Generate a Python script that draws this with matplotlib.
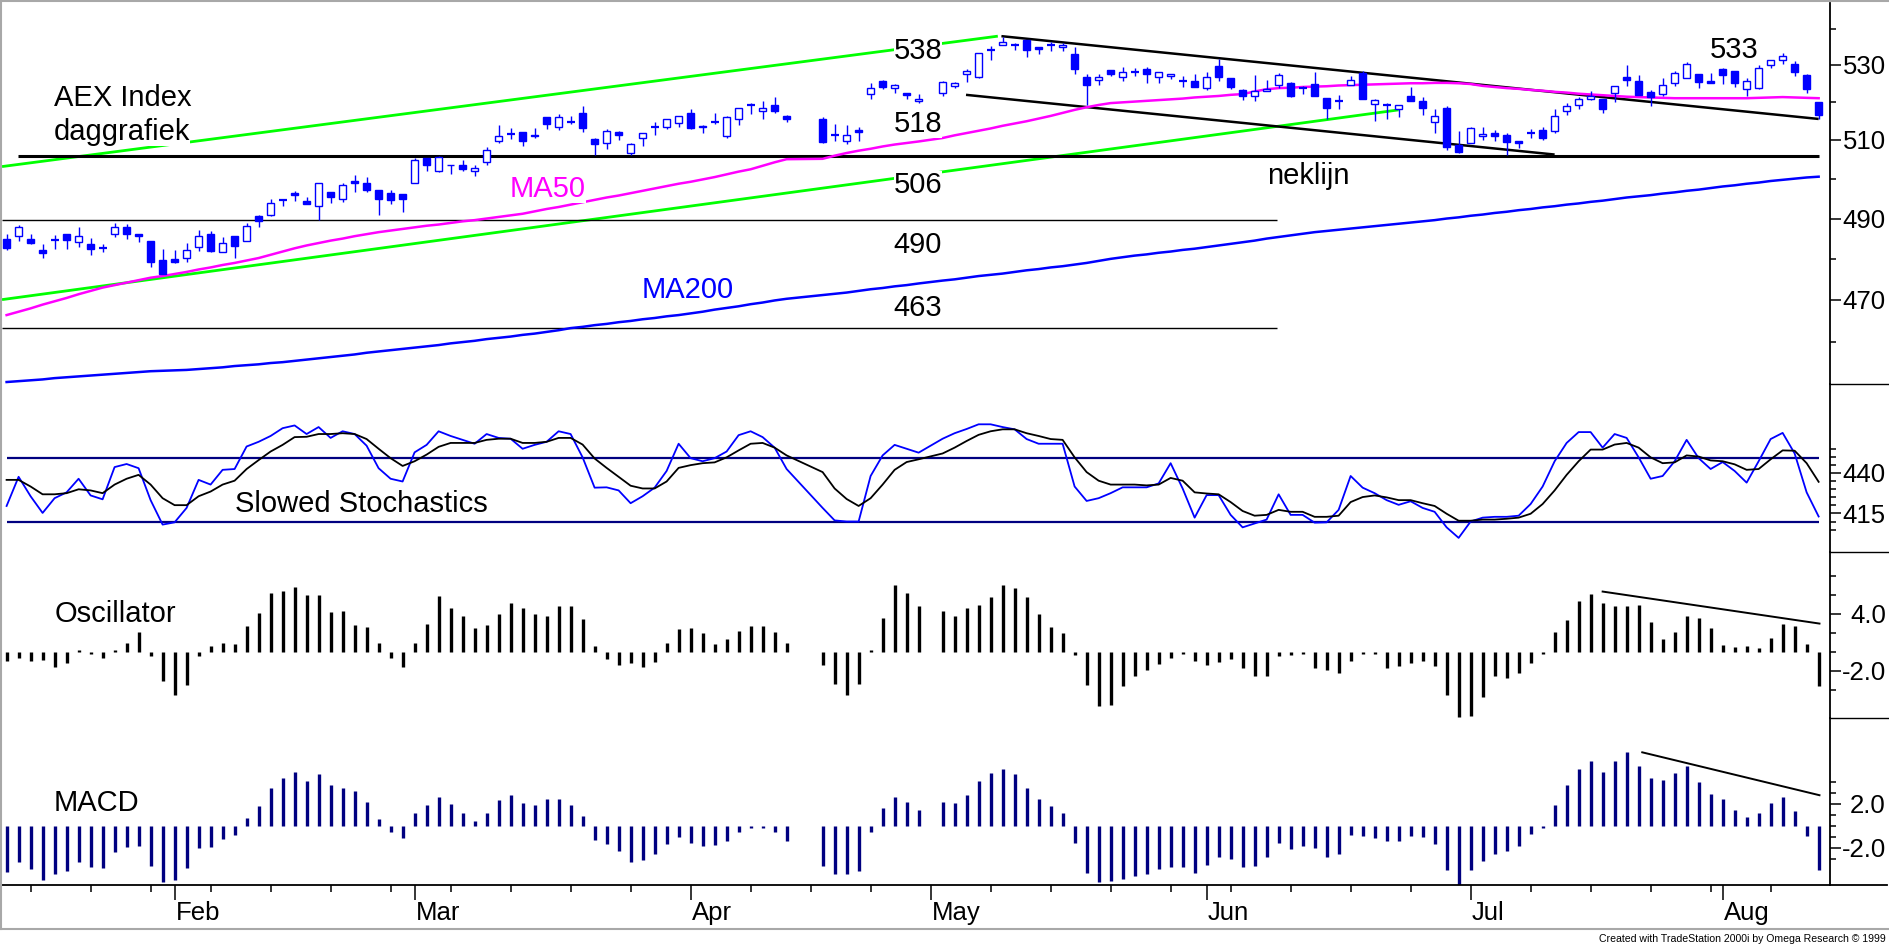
"""AEX Index daily chart with stochastics, oscillator and MACD panels."""

import numpy as np
import matplotlib
matplotlib.use("Agg")
import matplotlib.pyplot as plt
from matplotlib.lines import Line2D
from matplotlib.ticker import FixedLocator, NullFormatter
from matplotlib.transforms import blended_transform_factory

nan = np.nan

# ---- price bars (bar index 0..151, gaps are holidays) ----
opens = [
    485.0, 485.6, 485.0, 482.1, 484.6, 486.2, 484.2, 483.7, 482.7, 486.2,
    488.0, 486.2, 484.3, 479.8, 479.9, 480.1, 482.9, 486.2, 481.6, 485.7,
    484.3, 490.6, 491.0, 494.6, 496.5, 494.5, 493.1, 496.6, 495.0, 499.4,
    498.9, 497.1, 496.4, 496.2, 498.9, 505.4, 502.1, 503.7, 503.7, 502.1,
    504.5, 509.9, 511.7, 512.3, 511.5, 516.0, 513.4, 514.9, 517.1, 510.4,
    509.2, 512.3, 506.6, 510.7, 513.5, 513.5, 514.5, 517.3, 513.4, 514.9,
    511.2, 515.5, 519.3, 517.6, 519.2, 516.4, nan, nan, 515.5, 511.3,
    509.9, 512.6, 522.2, 525.6, 523.7, 522.4, 520.4, nan, 522.4, 524.4,
    527.5, 526.9, 534.1, 535.4, 535.6, 536.8, 534.8, 535.5, 535.0, 533.0,
    526.9, 525.9, 528.6, 526.7, 528.0, 528.9, 526.7, 527.0, 525.6, 525.6,
    523.9, 529.7, 526.4, 523.3, 521.6, 523.1, 524.5, 525.2, 523.8, 524.9,
    521.1, 520.4, 524.6, 527.8, 519.5, 519.3, 518.2, 521.7, 520.3, 514.9,
    518.5, 508.8, 509.3, 511.0, 511.8, 511.5, 509.7, 512.0, 512.7, 512.4,
    517.8, 519.4, 520.9, 520.9, 522.4, 526.7, 525.7, 522.7, 522.2, 525.3,
    526.6, 527.6, 525.7, 528.9, 528.5, 523.6, 523.8, 529.9, 531.5, 530.4,
    527.2, 520.0,
]
highs = [
    486.2, 488.3, 486.1, 483.7, 485.8, 486.2, 487.9, 485.2, 483.7, 488.9,
    488.7, 486.2, 484.3, 482.5, 482.3, 483.9, 487.2, 487.0, 485.4, 485.7,
    488.9, 490.8, 495.0, 494.6, 496.9, 495.5, 498.9, 496.6, 498.9, 501.0,
    500.4, 497.1, 497.1, 496.2, 505.4, 505.4, 506.0, 503.7, 504.8, 503.5,
    508.2, 513.9, 513.1, 512.3, 513.1, 516.0, 516.8, 516.4, 518.9, 510.6,
    512.9, 512.5, 509.3, 512.0, 514.7, 515.6, 516.4, 518.2, 514.1, 517.3,
    516.4, 518.6, 519.7, 520.3, 521.3, 516.6, nan, nan, 516.0, 514.4,
    513.9, 513.5, 525.1, 526.1, 524.9, 522.6, 522.3, nan, 525.7, 525.4,
    528.9, 533.2, 535.2, 537.7, 535.9, 536.8, 534.8, 536.2, 536.1, 535.0,
    527.6, 527.5, 528.6, 529.4, 529.3, 529.5, 528.0, 527.7, 527.1, 527.6,
    528.0, 531.6, 526.4, 523.5, 527.3, 525.9, 527.8, 525.4, 524.4, 528.1,
    521.1, 521.9, 527.1, 528.5, 520.8, 519.7, 519.4, 524.0, 521.3, 518.2,
    519.1, 512.4, 513.5, 513.5, 512.7, 511.8, 509.7, 512.9, 513.4, 518.2,
    519.9, 521.5, 523.1, 520.9, 524.3, 530.0, 527.3, 523.3, 526.5, 528.4,
    530.8, 527.6, 527.8, 529.1, 528.5, 526.6, 529.9, 531.3, 533.2, 531.0,
    527.6, 520.0,
]
lows = [
    482.1, 484.4, 483.6, 480.3, 482.4, 482.5, 482.9, 481.0, 481.7, 485.4,
    485.0, 484.2, 477.9, 476.4, 479.0, 479.3, 481.9, 481.7, 481.6, 480.1,
    484.3, 487.9, 490.7, 493.1, 494.5, 493.7, 489.6, 494.0, 494.2, 496.7,
    496.7, 490.9, 493.7, 491.7, 498.9, 502.1, 501.9, 501.4, 502.1, 500.8,
    503.6, 509.3, 510.3, 508.5, 510.5, 512.9, 512.8, 514.4, 512.3, 506.2,
    507.7, 510.2, 506.3, 508.5, 511.4, 512.9, 513.5, 512.9, 512.0, 514.4,
    510.6, 514.1, 516.8, 515.6, 517.3, 514.7, nan, nan, 509.3, 509.9,
    509.0, 509.9, 521.0, 523.5, 522.4, 520.8, 519.9, nan, 521.7, 523.7,
    525.5, 526.6, 531.5, 535.4, 534.2, 532.3, 533.0, 533.9, 533.8, 527.5,
    519.3, 524.5, 527.0, 525.8, 527.0, 525.1, 525.1, 526.3, 524.0, 524.0,
    523.4, 525.8, 523.6, 520.7, 520.4, 523.1, 523.8, 521.3, 522.2, 521.6,
    515.6, 518.2, 524.6, 520.8, 515.1, 515.6, 516.0, 520.4, 516.7, 512.0,
    507.4, 506.8, 509.3, 510.0, 509.9, 506.2, 507.9, 510.6, 510.2, 512.0,
    516.7, 518.2, 520.6, 517.2, 520.1, 524.4, 522.0, 519.1, 521.7, 524.4,
    526.4, 523.9, 525.3, 524.8, 524.2, 521.7, 523.6, 529.3, 530.2, 527.1,
    522.4, 515.6,
]
closes = [
    482.6, 487.9, 483.9, 481.5, 484.6, 484.6, 485.7, 482.5, 482.7, 487.9,
    486.2, 485.7, 479.3, 476.4, 479.3, 482.1, 485.7, 481.9, 484.0, 483.2,
    488.2, 489.3, 493.8, 494.6, 496.0, 493.7, 498.9, 495.5, 498.4, 498.9,
    497.3, 494.8, 494.6, 495.0, 505.0, 503.7, 505.7, 503.5, 502.6, 502.8,
    507.6, 511.0, 511.7, 509.8, 511.2, 514.3, 516.2, 514.9, 513.3, 509.1,
    512.5, 511.4, 509.0, 512.0, 513.5, 515.6, 516.4, 513.3, 513.8, 514.9,
    516.2, 518.6, 519.3, 518.4, 517.8, 515.7, nan, nan, 509.6, 511.3,
    511.5, 512.1, 523.7, 524.0, 524.6, 521.9, 520.9, nan, 525.4, 525.1,
    528.3, 533.2, 534.1, 536.3, 535.6, 534.2, 534.5, 535.5, 535.6, 529.0,
    524.5, 526.9, 527.6, 528.0, 528.0, 527.5, 528.0, 527.7, 525.6, 524.0,
    526.9, 526.7, 524.2, 521.6, 523.1, 523.5, 527.3, 521.8, 523.8, 521.6,
    518.6, 520.4, 526.0, 520.8, 520.6, 519.3, 519.4, 520.4, 518.6, 516.3,
    508.3, 507.0, 513.3, 511.6, 511.1, 509.5, 509.4, 512.0, 510.6, 516.4,
    518.9, 521.0, 521.6, 518.2, 524.3, 526.0, 522.0, 521.3, 524.5, 527.8,
    530.2, 525.5, 525.3, 527.4, 525.3, 525.6, 529.1, 531.3, 532.5, 528.2,
    523.5, 516.7,
]

ma50 = [
    466.4, 467.2, 468.0, 468.9, 469.7, 470.5, 471.4, 472.2, 473.0, 473.6,
    474.2, 474.8, 475.4, 475.8, 476.3, 476.8, 477.4, 477.9, 478.5, 479.0,
    479.6, 480.2, 481.0, 481.8, 482.6, 483.3, 483.9, 484.5, 485.0, 485.6,
    486.1, 486.6, 487.0, 487.4, 487.8, 488.2, 488.5, 488.9, 489.3, 489.6,
    490.0, 490.4, 490.8, 491.2, 491.8, 492.4, 492.9, 493.5, 494.1, 494.7,
    495.3, 495.8, 496.4, 497.0, 497.6, 498.2, 498.8, 499.3, 499.9, 500.5,
    501.2, 501.9, 502.5, 503.4, 504.3, 505.1, nan, nan, 505.2, 506.0,
    506.7, 507.3, 507.8, 508.4, 508.9, 509.3, 509.7, nan, 510.6, 511.3,
    511.9, 512.5, 513.1, 513.8, 514.4, 515.0, 515.7, 516.4, 517.2, 518.0,
    518.7, 519.3, 519.8, 520.0, 520.2, 520.4, 520.6, 520.8, 521.0, 521.3,
    521.5, 521.7, 522.0, 522.2, 522.9, 523.5, 523.8, 523.9, 524.1, 524.2,
    524.3, 524.5, 524.6, 524.7, 524.8, 524.9, 525.0, 525.1, 525.1, 525.2,
    525.2, 525.1, 524.9, 524.4, 524.1, 523.8, 523.6, 523.3, 523.1, 522.8,
    522.6, 522.3, 522.1, 521.9, 521.7, 521.5, 521.4, 521.3, 521.2, 521.1,
    521.1, 521.1, 521.1, 521.1, 521.1, 521.1, 521.2, 521.3, 521.4, 521.3,
    521.2, 521.1,
]
ma200 = [
    450.7, 450.9, 451.1, 451.3, 451.6, 451.8, 452.0, 452.2, 452.4, 452.6,
    452.8, 453.0, 453.2, 453.3, 453.4, 453.5, 453.7, 453.9, 454.1, 454.4,
    454.6, 454.8, 455.1, 455.3, 455.6, 455.9, 456.2, 456.5, 456.8, 457.1,
    457.5, 457.8, 458.1, 458.4, 458.7, 459.0, 459.3, 459.7, 460.0, 460.3,
    460.7, 461.0, 461.3, 461.7, 462.0, 462.4, 462.8, 463.3, 463.6, 464.0,
    464.3, 464.7, 465.0, 465.4, 465.7, 466.1, 466.4, 466.8, 467.2, 467.7,
    468.1, 468.5, 469.0, 469.4, 469.9, 470.3, nan, nan, 471.2, 471.5,
    471.8, 472.2, 472.6, 472.9, 473.3, 473.6, 474.0, nan, 474.7, 475.0,
    475.4, 475.8, 476.1, 476.4, 476.8, 477.2, 477.5, 477.9, 478.2, 478.6,
    479.0, 479.5, 480.0, 480.4, 480.8, 481.1, 481.5, 481.8, 482.2, 482.5,
    482.9, 483.3, 483.7, 484.1, 484.5, 485.0, 485.4, 485.8, 486.2, 486.6,
    486.9, 487.2, 487.5, 487.8, 488.1, 488.4, 488.7, 489.0, 489.3, 489.6,
    490.0, 490.3, 490.7, 491.0, 491.4, 491.7, 492.1, 492.4, 492.8, 493.1,
    493.5, 493.8, 494.2, 494.5, 494.9, 495.3, 495.6, 495.9, 496.3, 496.6,
    497.0, 497.3, 497.7, 498.1, 498.4, 498.8, 499.1, 499.5, 499.8, 500.1,
    500.4, 500.6,
]

# ---- slowed stochastics (fast blue, slow black) ----
stoch_k = [
    419.6, 437.6, 425.6, 415.3, 424.4, 428.0, 436.4, 426.1, 423.7, 443.6,
    445.5, 442.9, 423.2, 408.1, 409.5, 418.4, 435.7, 432.8, 441.9, 442.4,
    456.3, 459.2, 462.8, 467.6, 469.3, 464.0, 468.3, 461.6, 465.7, 464.0,
    456.8, 442.9, 436.4, 434.7, 452.7, 457.3, 465.7, 462.8, 460.4, 458.0,
    464.0, 461.6, 461.1, 454.9, 457.3, 459.2, 465.7, 464.0, 449.6, 430.9,
    431.1, 429.2, 421.3, 425.6, 430.9, 441.2, 458.0, 449.1, 447.2, 449.1,
    453.2, 463.3, 465.7, 462.1, 455.6, 442.4, nan, nan, 418.4, 410.7,
    410.0, 410.0, 438.1, 450.8, 457.3, 454.9, 452.5, nan, 461.1, 464.5,
    467.1, 470.0, 470.0, 468.3, 466.9, 460.9, 458.0, 458.0, 458.0, 431.6,
    422.7, 424.4, 427.5, 431.1, 431.1, 431.1, 433.5, 446.0, 430.4, 412.4,
    426.3, 426.3, 414.1, 406.4, 408.8, 411.2, 426.8, 414.1, 414.1, 409.3,
    409.5, 417.2, 438.1, 430.9, 427.5, 423.2, 420.3, 422.5, 418.4, 416.0,
    406.4, 399.9, 410.0, 412.4, 412.9, 412.9, 413.6, 420.8, 431.6, 447.2,
    458.5, 465.2, 465.2, 455.6, 464.0, 461.6, 449.6, 436.4, 438.1, 447.2,
    460.4, 449.1, 442.4, 446.7, 441.2, 434.0, 447.2, 460.9, 464.7, 452.0,
    428.0, 413.1,
]
stoch_d = [
    435.7, 435.7, 431.6, 426.8, 426.8, 427.5, 429.9, 429.2, 427.5, 432.8,
    436.4, 438.8, 432.8, 424.4, 420.1, 420.1, 425.6, 428.5, 432.8, 435.2,
    442.4, 447.9, 453.2, 457.3, 462.1, 462.3, 464.0, 464.0, 464.5, 464.0,
    460.9, 454.9, 449.1, 444.3, 447.2, 451.3, 456.1, 458.5, 458.5, 458.5,
    460.4, 461.1, 461.1, 458.5, 458.5, 459.2, 461.6, 461.6, 457.5, 448.9,
    443.1, 437.6, 432.1, 430.4, 430.4, 434.7, 443.1, 444.8, 446.0, 446.5,
    449.6, 453.9, 458.0, 458.5, 455.6, 450.8, nan, nan, 440.5, 430.4,
    423.9, 419.6, 424.4, 432.8, 441.9, 446.7, 448.4, nan, 452.0, 455.6,
    459.7, 463.5, 465.7, 466.9, 466.9, 464.5, 462.8, 460.9, 460.4, 449.6,
    440.5, 435.2, 432.8, 432.8, 432.8, 432.3, 432.8, 436.9, 435.2, 428.0,
    427.3, 426.8, 422.0, 416.5, 413.6, 414.1, 417.2, 416.0, 416.0, 412.9,
    412.9, 413.6, 422.0, 425.1, 426.1, 424.9, 423.2, 423.2, 421.3, 419.6,
    414.8, 410.5, 410.5, 411.2, 411.2, 411.7, 412.4, 414.8, 420.8, 429.2,
    438.8, 447.2, 454.4, 454.4, 457.5, 458.5, 455.6, 449.6, 446.0, 446.5,
    450.8, 450.1, 447.7, 447.2, 445.3, 441.9, 442.4, 448.4, 453.9, 453.7,
    446.0, 434.5,
]

oscillator = [
    -1.0, -0.6, -1.0, -0.8, -1.6, -1.2, 0.25, -0.25, -0.6, 0.2,
    1.0, 2.1, -0.4, -3.1, -4.5, -3.5, -0.4, 0.6, 1.0, 0.8,
    2.7, 4.1, 6.2, 6.4, 6.9, 6.0, 6.0, 4.2, 4.3, 2.9,
    2.6, 0.9, -0.6, -1.6, 1.0, 3.0, 5.9, 4.6, 3.8, 2.5,
    2.9, 4.0, 5.2, 4.6, 4.0, 3.8, 4.9, 4.9, 3.5, 0.6,
    -0.7, -1.4, -1.2, -1.6, -1.1, 1.0, 2.4, 2.5, 2.0, 0.8,
    1.4, 2.2, 2.7, 2.7, 2.1, 0.9, nan, nan, -1.4, -3.4,
    -4.5, -3.4, 0.2, 3.6, 7.1, 6.2, 4.9, nan, 4.3, 3.8,
    4.6, 5.0, 5.8, 7.1, 6.8, 5.8, 4.0, 2.6, 2.0, -0.3,
    -3.5, -5.7, -5.6, -3.6, -2.5, -1.9, -1.3, -0.6, -0.25, -1.0,
    -1.4, -1.1, -0.7, -1.7, -2.5, -2.5, -0.4, -0.3, -0.25, -1.7,
    -1.9, -2.2, -1.0, -0.2, -0.2, -1.7, -1.5, -1.2, -1.0, -1.5,
    -4.5, -6.9, -6.8, -4.8, -2.5, -2.7, -2.2, -1.2, -0.25, 2.1,
    3.4, 5.4, 6.1, 5.2, 4.9, 4.9, 5.0, 3.2, 1.4, 2.1,
    3.8, 3.6, 2.5, 0.7, 0.5, 0.6, 0.4, 1.5, 3.0, 2.7,
    0.8, -3.6,
]
macd = [
    -4.2, -3.3, -3.9, -4.9, -4.4, -4.1, -3.3, -3.7, -3.8, -2.4,
    -1.9, -1.8, -3.6, -5.1, -4.9, -3.8, -2.0, -1.9, -1.2, -0.8,
    0.7, 1.8, 3.5, 4.4, 4.9, 4.1, 4.7, 3.7, 3.5, 3.2,
    2.2, 0.6, -0.5, -1.1, 1.2, 1.9, 2.6, 2.0, 1.2, 0.5,
    1.2, 2.4, 2.8, 2.1, 1.9, 2.5, 2.5, 1.9, 0.9, -1.3,
    -1.6, -2.3, -3.3, -3.1, -2.5, -1.6, -1.0, -1.5, -1.8, -1.7,
    -1.4, -0.5, -0.15, -0.15, -0.5, -1.4, nan, nan, -3.6, -4.4,
    -4.4, -4.1, -0.5, 1.6, 2.6, 2.2, 1.5, nan, 2.2, 2.1,
    2.8, 4.1, 4.8, 5.2, 4.7, 3.5, 2.5, 1.8, 1.2, -1.5,
    -4.3, -5.1, -5.0, -4.8, -4.5, -4.4, -3.9, -3.7, -3.7, -4.3,
    -3.5, -2.8, -3.0, -3.7, -3.6, -2.8, -1.5, -2.1, -1.8, -2.0,
    -2.8, -2.5, -0.8, -0.9, -1.1, -1.4, -1.4, -0.9, -1.0, -1.6,
    -4.0, -5.4, -4.0, -3.2, -2.5, -2.3, -1.8, -0.7, -0.2, 1.9,
    3.7, 5.2, 5.9, 4.9, 5.9, 6.7, 5.5, 4.4, 4.2, 4.8,
    5.5, 4.0, 2.9, 2.5, 1.5, 0.8, 1.2, 2.1, 2.6, 1.4,
    -0.9, -4.0,
]

# drawn trend lines: (bar index pair, value pair)
green_upper = ([-0.38, 82.6], [503.2, 537.9])
green_lower = ([-0.38, 116.0], [470.1, 518.0])
black_upper = ([82.9, 151.0], [537.9, 515.6])
black_lower = ([79.95, 129.0], [522.0, 506.3])
neckline = ([0.95, 151.07], [506.0, 506.0])
support_490 = ([-0.38, 105.9], [489.7, 489.7])
support_463 = ([-0.38, 105.9], [463.3, 463.3])
osc_trend = ([133.0, 151.07], [6.38, 3.0])
macd_trend = ([136.3, 151.07], [6.7, 2.8])
stoch_levels = [449.1, 409.5]

week_ticks = list(range(2, 150, 5))
month_ticks = [14, 34, 57, 77, 100, 122, 143]
month_names = ["Feb", "Mar", "Apr", "May", "Jun", "Jul", "Aug"]

BLUE = "#0000ff"
NAVY = "#000080"
GREEN = "#00ff00"
MAGENTA = "#ff00ff"

plt.rcParams["font.family"] = ["Liberation Sans", "DejaVu Sans"]

W, H = 1889, 944
fig = plt.figure(figsize=(W / 100, H / 100), dpi=100)
fig.patch.set_facecolor("white")


def fx(px):
    return px / W


def fy(py):
    return 1 - py / H


AX_L, AX_R = 2, 1830.4


def make_ax(top, bot):
    ax = fig.add_axes([fx(AX_L), fy(bot), fx(AX_R) - fx(AX_L), (bot - top) / H])
    ax.set_xlim(-0.383, 151.98)
    ax.set_facecolor("none")
    for s in ("top", "left", "bottom"):
        ax.spines[s].set_visible(False)
    ax.spines["right"].set_linewidth(1.3)
    ax.yaxis.tick_right()
    ax.tick_params(axis="y", which="major", length=8, width=1.1, direction="out",
                   labelright=False, labelleft=False)
    ax.tick_params(axis="y", which="minor", length=4.5, width=1.1, direction="out")
    ax.tick_params(axis="x", which="both", bottom=False, labelbottom=False)
    return ax


def set_ticks(ax, major, minor, labels):
    ax.yaxis.set_major_locator(FixedLocator(major))
    ax.yaxis.set_minor_locator(FixedLocator(minor))
    ax.yaxis.set_major_formatter(NullFormatter())
    ax.yaxis.set_minor_formatter(NullFormatter())
    tr = blended_transform_factory(ax.transAxes, ax.transData)
    for v, s in zip(major, labels):
        ax.annotate(s, xy=(1, v), xycoords=tr, xytext=(40, -6.6),
                    textcoords="offset points", ha="right", va="baseline",
                    fontsize=18.5, annotation_clip=False)


x = np.arange(len(closes))
o, h, l, c = (np.array(a, dtype=float) for a in (opens, highs, lows, closes))
ok = ~np.isnan(c)

# ---- price panel ----
ax_p = make_ax(3, 384.2)
ax_p.set_yscale("log")
ax_p.set_ylim(450.2, 547.1)
set_ticks(ax_p, [530, 510, 490, 470], [540, 520, 500, 480, 460],
          ["530", "510", "490", "470"])

for line, col, lw in ((green_upper, GREEN, 2.0), (green_lower, GREEN, 2.0),
                      (black_upper, "black", 1.8), (black_lower, "black", 1.8),
                      (neckline, "black", 2.2), (support_490, "black", 1.0),
                      (support_463, "black", 1.0)):
    ax_p.plot(line[0], line[1], color=col, lw=lw, solid_capstyle="butt", zorder=2)

m50 = np.array(ma50)
m200 = np.array(ma200)
ax_p.plot(x[~np.isnan(m50)], m50[~np.isnan(m50)], color=MAGENTA, lw=1.8, zorder=2)
ax_p.plot(x[~np.isnan(m200)], m200[~np.isnan(m200)], color=BLUE, lw=1.8, zorder=2)

up = ok & (c > o)
down = ok & (c < o)
flat = ok & (c == o)
ax_p.vlines(x[ok], l[ok], h[ok], color=BLUE, lw=1.0, zorder=3)
ax_p.bar(x[up], (c - o)[up], bottom=o[up], width=0.62, facecolor="white",
         edgecolor=BLUE, lw=1.0, zorder=4)
ax_p.bar(x[down], (o - c)[down], bottom=c[down], width=0.62, facecolor=BLUE,
         edgecolor=BLUE, lw=1.0, zorder=4)
ax_p.hlines(c[flat], x[flat] - 0.34, x[flat] + 0.34, color=BLUE, lw=1.6, zorder=4)

# ---- stochastics ----
ax_s = make_ax(384.2, 551.5)
ax_s.set_ylim(391.5, 494.75)
set_ticks(ax_s, [440, 415], [455, 450, 445, 435, 430, 425, 420, 410, 405],
          ["440", "415"])
ax_s.hlines(stoch_levels, 0, 151, color=NAVY, lw=1.6)
k = np.array(stoch_k)
d = np.array(stoch_d)
ax_s.plot(x[~np.isnan(k)], k[~np.isnan(k)], color=BLUE, lw=1.3)
ax_s.plot(x[~np.isnan(d)], d[~np.isnan(d)], color="black", lw=1.3)

# ---- oscillator ----
ax_o = make_ax(551.5, 718)
ax_o.set_ylim(-6.97, 10.61)
set_ticks(ax_o, [4, -2], [8, 6, 2, 0, -4], ["4.0", "-2.0"])
osc = np.array(oscillator)
ax_o.vlines(x[~np.isnan(osc)], 0, osc[~np.isnan(osc)], color="black", lw=2.4)
ax_o.plot(osc_trend[0], osc_trend[1], color="black", lw=1.4)

# ---- MACD ----
ax_m = make_ax(718, 885.3)
ax_m.set_ylim(-5.39, 9.82)
set_ticks(ax_m, [2, -2], [4, 3, 1, 0, -1, -3], ["2.0", "-2.0"])
mv = np.array(macd)
ax_m.vlines(x[~np.isnan(mv)], 0, mv[~np.isnan(mv)], color=NAVY, lw=2.4)
ax_m.plot(macd_trend[0], macd_trend[1], color="black", lw=1.4)

ax_m.spines["bottom"].set_visible(True)
ax_m.spines["bottom"].set_linewidth(1.3)
ax_m.xaxis.set_major_locator(FixedLocator(month_ticks))
ax_m.xaxis.set_minor_locator(FixedLocator(week_ticks))
ax_m.xaxis.set_major_formatter(NullFormatter())
ax_m.tick_params(axis="x", which="major", bottom=True, length=11, width=1.1,
                 direction="out")
ax_m.tick_params(axis="x", which="minor", bottom=True, length=5, width=1.1,
                 direction="out")
tr_month = blended_transform_factory(ax_m.transData, fig.transFigure)
for pos, name in zip(month_ticks, month_names):
    ax_m.text(pos + 0.1, fy(920), name, transform=tr_month, ha="left",
              va="baseline", fontsize=18.5)

# ---- annotations ----
white = dict(facecolor="white", edgecolor="none", pad=0)
notes = [
    ("AEX Index", 54, 106, "left", "black"),
    ("daggrafiek", 54, 140, "left", "black"),
    ("538", 918, 59.3, "center", "black"),
    ("518", 918, 132.3, "center", "black"),
    ("506", 918, 192.7, "center", "black"),
    ("490", 918, 253.3, "center", "black"),
    ("463", 918, 316.5, "center", "black"),
    ("533", 1734, 57.7, "center", "black"),
    ("neklijn", 1267, 184, "left", "black"),
    ("MA50", 510, 196.7, "left", MAGENTA),
    ("MA200", 642, 297.7, "left", BLUE),
    ("Slowed Stochastics", 235, 511.8, "left", "black"),
    ("Oscillator", 55, 621.5, "left", "black"),
    ("MACD", 54, 810.6, "left", "black"),
]
for s, px, py, ha, col in notes:
    fig.text(fx(px), fy(py), s, ha=ha, va="baseline", fontsize=21, color=col,
             bbox=white)

fig.text(fx(1886), fy(941.7), "Created with TradeStation 2000i by Omega Research \u00a9 1999",
         ha="right", va="baseline", fontsize=7.6)

# panel separators in the scale column, axis base line and grey frame
for py in (384.2, 551.5, 718):
    fig.add_artist(Line2D([fx(AX_R), fx(1889)], [fy(py), fy(py)], color="black", lw=1.0))
fig.add_artist(Line2D([fx(AX_R), fx(1887)], [fy(885.3), fy(885.3)], color="black", lw=1.3))
grey = "#a8a8a8"
fig.add_artist(Line2D([0, 1], [fy(1), fy(1)], color=grey, lw=1.5))
fig.add_artist(Line2D([fx(1), fx(1)], [fy(0), fy(929)], color=grey, lw=1.5))
fig.add_artist(Line2D([0, 1], [fy(929), fy(929)], color=grey, lw=1.5))

fig.savefig("out.png", dpi=100)
plt.close(fig)
